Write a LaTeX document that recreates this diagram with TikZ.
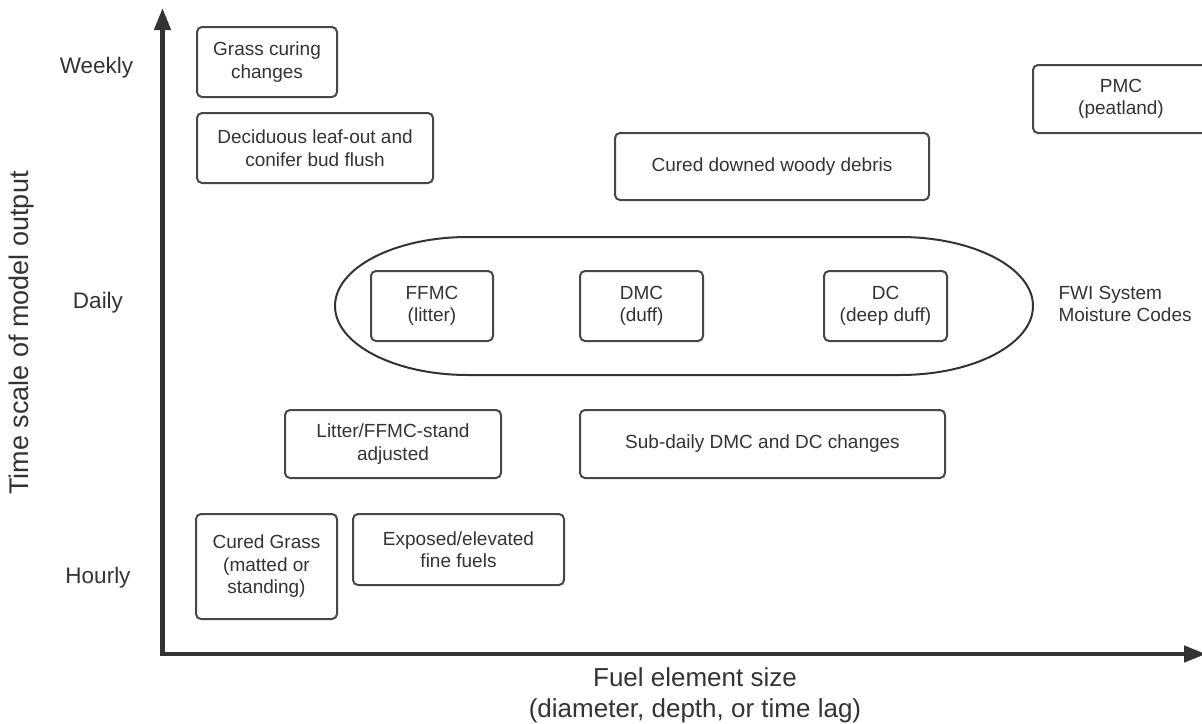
\documentclass[tikz,border=0pt]{standalone}
\usepackage{fontspec}
\setmainfont{Liberation Sans}
\usetikzlibrary{arrows.meta}
\definecolor{ink}{HTML}{333333}
\definecolor{frame}{HTML}{474747}
\begin{document}
\begin{tikzpicture}[x=1pt,y=-1pt,
  fuelbox/.style={draw=frame, line width=2pt, rounded corners=5pt, text=ink,
    align=center, inner sep=0pt, font=\fontsize{19}{22.5}\selectfont},
  axisline/.style={draw=ink, line width=4.5pt, line join=miter,
    {Triangle[length=22pt,width=16pt]}-{Triangle[length=22pt,width=16pt]}},
  scalelabel/.style={text=ink, font=\fontsize{22.5}{27}\selectfont},
  axislabel/.style={text=ink, align=center, font=\fontsize{26}{31}\selectfont},
  note/.style={text=ink, align=left, font=\fontsize{19}{22.5}\selectfont}]
\useasboundingbox (0,0) rectangle (1202,723);

% axes
\coordinate (origin) at (162.5,654);
\coordinate (ytip) at (162.5,8);
\coordinate (xtip) at (1206,654);
\draw[axisline] (ytip) -- (origin) -- (xtip);

% axis titles and time-scale marks
\node[axislabel, rotate=90, font=\fontsize{27}{32}\selectfont] (ytitle) at (22,333) {Time scale of model output};
\node[axislabel] (xtitle) at (695,695) {Fuel element size\\(diameter, depth, or time lag)};
\node[scalelabel] (weekly) at (96.5,68) {Weekly};
\node[scalelabel] (daily) at (98,303) {Daily};
\node[scalelabel] (hourly) at (98,578) {Hourly};

% weekly-scale fuels
\node[fuelbox, minimum width=140pt, minimum height=70pt] (grasscuring) at (267,62) {Grass curing\\changes};
\node[fuelbox, minimum width=236pt, minimum height=70pt] (leafout) at (315,148) {Deciduous leaf-out and\\conifer bud flush};
\node[fuelbox, minimum width=314pt, minimum height=67pt] (woody) at (772,166.5) {Cured downed woody debris};
\node[fuelbox, minimum width=176pt, minimum height=68pt] (pmc) at (1121,99) {PMC\\(peatland)};

% FWI System moisture codes
\draw[ink, line width=2pt] (468,237) -- (900,237)
  arc[start angle=-90, end angle=90, x radius=133, y radius=69]
  -- (468,375)
  arc[start angle=90, end angle=270, x radius=133, y radius=69] -- cycle;
\node[fuelbox, minimum width=122pt, minimum height=70pt] (ffmc) at (432,306) {FFMC\\(litter)};
\node[fuelbox, minimum width=123pt, minimum height=70pt] (dmc) at (641.5,306) {DMC\\(duff)};
\node[fuelbox, minimum width=123pt, minimum height=70pt] (dc) at (885.5,306) {DC\\(deep duff)};
\node[note, anchor=west] (fwi) at (1055,304) {FWI System\\Moisture Codes};

% sub-daily and hourly fuels
\node[fuelbox, minimum width=216pt, minimum height=68pt] (litter) at (393,444) {Litter/FFMC-stand\\adjusted};
\node[fuelbox, minimum width=365pt, minimum height=68pt] (subdaily) at (762.5,444) {Sub-daily DMC and DC changes};
\node[fuelbox, minimum width=141pt, minimum height=105pt] (curedgrass) at (266.5,566.5) {Cured Grass\\(matted or\\standing)};
\node[fuelbox, minimum width=211pt, minimum height=71pt] (exposed) at (458.5,549.5) {Exposed/elevated\\fine fuels};
\end{tikzpicture}
\end{document}
